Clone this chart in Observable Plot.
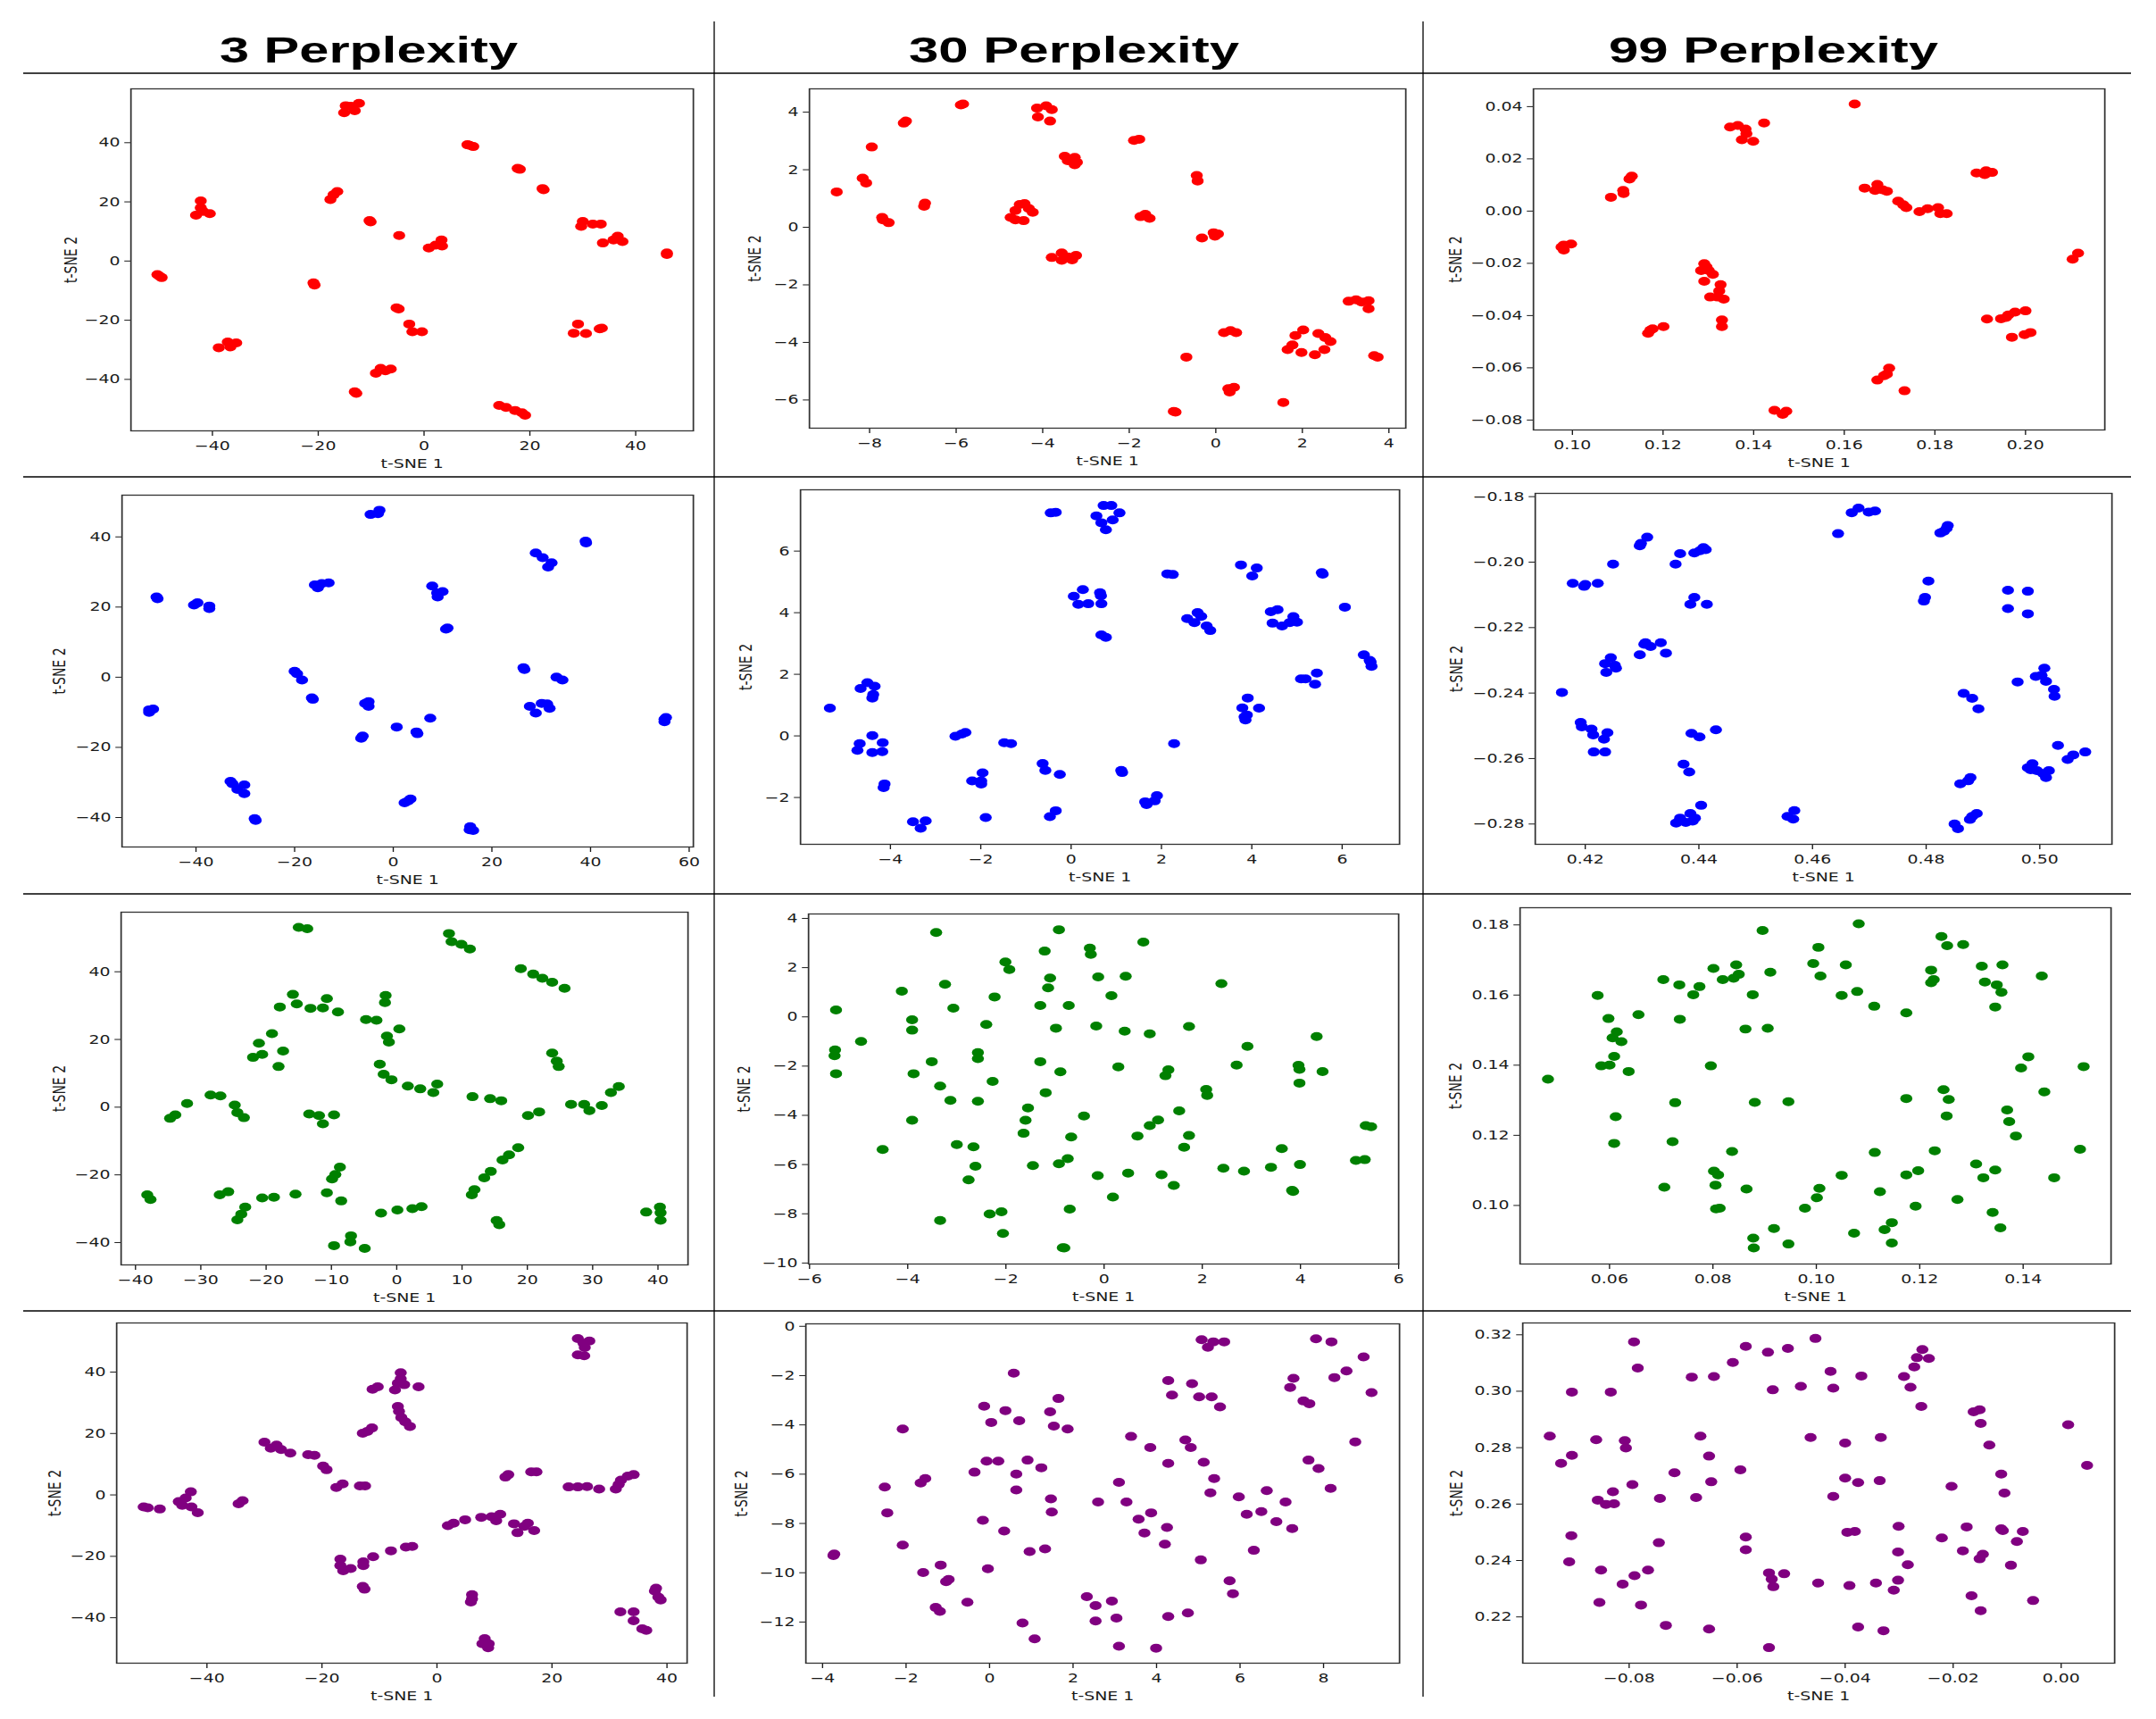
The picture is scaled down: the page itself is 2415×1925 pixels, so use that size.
<!DOCTYPE html>
<html><head><meta charset="utf-8">
<script src="https://cdn.jsdelivr.net/npm/d3@7"></script>
<script src="https://cdn.jsdelivr.net/npm/@observablehq/plot@0.6"></script>
<style>
html,body{margin:0;padding:0;background:#fff;}
#page{position:relative;width:2415px;height:1925px;overflow:hidden;background:#fff;}
.panel{position:absolute;transform-origin:0 0;}
#overlay{position:absolute;left:0;top:0;z-index:5;pointer-events:none;}
</style></head><body><div id="page"></div>
<script>
// ---------- column titles & axis labels ----------
const perplexities = [3, 30, 99];
const xLabel = "t-SNE 1";
const yLabel = "t-SNE 2";
const rowColors = ["#ff0000", "#0000ff", "#008000", "#800080"];

// ---------- data: row 1 (red) ----------
const r1_p3 = [[-15.1,50.1],[-14.8,52.5],[-13.1,50.8],[-12.3,53.3],[-13.8,52.3],[8.6,39.1],[9.3,38.7],[8.2,39.3],[17.7,31.3],[18.1,31.0],[22.4,24.5],[22.6,24.1],[-17.7,20.8],[-17.1,22.4],[-16.4,23.5],[-42.2,20.3],[-42.2,18.0],[-43.1,15.5],[-40.5,16.0],[-41.8,16.8],[-10.3,13.7],[-10.1,13.2],[-4.7,8.6],[0.9,4.4],[2.2,5.4],[3.3,7.1],[3.4,5.1],[29.7,11.7],[30.0,13.4],[31.9,12.5],[33.4,12.5],[33.8,6.1],[36.6,8.4],[37.5,6.6],[35.8,7.1],[45.9,2.7],[45.9,2.2],[-50.0,-5.1],[-49.6,-5.6],[-50.4,-4.6],[-20.7,-8.1],[-20.9,-7.4],[-5.2,-15.8],[-4.8,-16.2],[-2.8,-21.3],[-2.2,-23.9],[-0.4,-23.9],[28.3,-24.4],[29.1,-21.3],[30.6,-24.5],[33.2,-22.9],[33.6,-22.7],[-38.8,-29.3],[-37.1,-27.4],[-35.5,-27.7],[-36.6,-29.0],[-9.1,-37.9],[-8.2,-36.3],[-6.3,-36.5],[-7.3,-37.1],[-12.8,-44.7],[-13.1,-44.2],[14.2,-48.8],[15.5,-49.5],[17.2,-50.5],[18.5,-51.3],[19.1,-52.1]];
const r1_p30 = [[-8.76,1.23],[-7.95,2.79],[-8.16,1.71],[-8.08,1.54],[-7.71,0.34],[-7.69,0.26],[-7.56,0.16],[-7.21,3.62],[-7.16,3.69],[-6.72,0.84],[-6.74,0.73],[-5.89,4.25],[-5.84,4.28],[-4.74,0.34],[-4.63,0.58],[-4.53,0.79],[-4.42,0.82],[-4.32,0.65],[-4.23,0.52],[-4.44,0.23],[-4.63,0.26],[-4.13,4.14],[-4.11,3.83],[-3.92,4.22],[-3.79,4.09],[-3.83,3.69],[-3.49,2.47],[-3.42,2.31],[-3.26,2.43],[-3.21,2.26],[-3.26,2.17],[-3.79,-1.05],[-3.56,-0.89],[-3.56,-1.15],[-3.32,-1.13],[-3.23,-0.98],[-3.42,-1.03],[-1.89,3.02],[-1.77,3.06],[-1.74,0.37],[-1.63,0.45],[-1.53,0.31],[-0.44,1.80],[-0.42,1.61],[-0.32,-0.37],[-0.05,-0.19],[0.05,-0.23],[-0.02,-0.31],[-0.68,-4.51],[0.19,-3.66],[0.34,-3.59],[0.47,-3.66],[0.29,-5.61],[0.42,-5.56],[0.32,-5.72],[-0.97,-6.40],[-0.93,-6.42],[1.56,-6.09],[1.66,-4.25],[1.77,-4.09],[1.84,-3.76],[2.02,-3.57],[1.98,-4.35],[2.29,-4.43],[2.37,-3.69],[2.51,-4.25],[2.53,-3.83],[2.65,-3.97],[3.07,-2.57],[3.24,-2.52],[3.37,-2.60],[3.53,-2.55],[3.53,-2.83],[3.66,-4.46],[3.74,-4.51]];
const r1_p99 = [[0.1623,0.0410],[0.1348,0.0322],[0.1365,0.0328],[0.1382,0.0314],[0.1374,0.0273],[0.1399,0.0267],[0.1384,0.0296],[0.1423,0.0337],[0.1085,0.0053],[0.1112,0.0079],[0.1113,0.0067],[0.1126,0.0123],[0.1131,0.0134],[0.0981,-0.0130],[0.0976,-0.0138],[0.0997,-0.0126],[0.0981,-0.0149],[0.1291,-0.0201],[0.1284,-0.0228],[0.1301,-0.0228],[0.1310,-0.0242],[0.1291,-0.0269],[0.1296,-0.0214],[0.1304,-0.0329],[0.1320,-0.0329],[0.1327,-0.0282],[0.1324,-0.0306],[0.1334,-0.0337],[0.1330,-0.0417],[0.1330,-0.0442],[0.1172,-0.0456],[0.1167,-0.0468],[0.1177,-0.0451],[0.1201,-0.0442],[0.1446,-0.0763],[0.1464,-0.0778],[0.1472,-0.0766],[0.1645,0.0088],[0.1668,0.0079],[0.1673,0.0102],[0.1694,0.0076],[0.1684,0.0082],[0.1719,0.0038],[0.1730,0.0024],[0.1737,0.0013],[0.1766,-0.0002],[0.1784,0.0009],[0.1807,0.0013],[0.1812,-0.0010],[0.1826,-0.0010],[0.1892,0.0146],[0.1913,0.0154],[0.1926,0.0148],[0.1910,0.0140],[0.2104,-0.0184],[0.2116,-0.0161],[0.1673,-0.0647],[0.1688,-0.0630],[0.1699,-0.0601],[0.1694,-0.0624],[0.1733,-0.0688],[0.1915,-0.0413],[0.1946,-0.0412],[0.1962,-0.0398],[0.1977,-0.0387],[0.2000,-0.0382],[0.1957,-0.0407],[0.1970,-0.0483],[0.1998,-0.0473],[0.2011,-0.0465]];

// ---------- data: row 2 (blue) ----------
const r2_p3 = [[-4.6,46.4],[-3.1,46.6],[-2.8,47.6],[39.1,38.3],[39.0,38.8],[28.9,35.4],[30.3,34.1],[32.1,32.6],[31.4,31.4],[-15.9,26.3],[-14.5,26.7],[-13.1,26.9],[-15.3,25.5],[-48.0,22.9],[-47.8,22.4],[-40.4,20.6],[-39.7,21.2],[-37.3,20.3],[-37.3,19.6],[7.9,26.0],[10.0,24.4],[9.0,22.9],[8.9,24.0],[10.7,13.7],[11.0,14.0],[-20.0,1.7],[-19.5,1.0],[-18.5,-0.8],[-16.5,-5.9],[-16.3,-6.3],[-49.5,-9.3],[-48.7,-9.1],[-49.5,-10.0],[-5.7,-7.5],[-5.0,-8.3],[-5.0,-7.0],[-6.5,-17.4],[-6.2,-16.8],[0.7,-14.2],[4.9,-16.1],[4.7,-15.6],[7.5,-11.7],[26.4,2.7],[26.6,2.2],[33.1,0.0],[34.3,-0.8],[27.7,-8.3],[28.9,-10.2],[30.1,-7.5],[31.2,-7.6],[31.7,-8.9],[55.0,-12.0],[55.0,-12.7],[55.3,-11.5],[-33.0,-29.7],[-31.6,-32.0],[-30.2,-30.7],[-30.2,-33.2],[-32.6,-30.4],[-27.9,-40.8],[-28.1,-40.3],[2.3,-35.8],[3.5,-34.7],[3.0,-35.3],[15.5,-43.5],[16.2,-43.7],[15.6,-42.6]];
const r2_p30 = [[-5.34,0.90],[-4.66,1.54],[-4.51,1.73],[-4.35,1.61],[-4.38,1.34],[-4.40,1.23],[-4.73,-0.47],[-4.68,-0.25],[-4.40,0.01],[-4.40,-0.54],[-4.18,-0.51],[-4.17,-0.22],[-4.13,-1.56],[-4.15,-1.68],[-3.50,-2.79],[-3.33,-3.00],[-3.22,-2.76],[-2.56,-0.01],[-2.42,0.06],[-2.34,0.11],[-1.48,-0.22],[-1.33,-0.25],[-2.19,-1.46],[-1.96,-1.20],[-1.99,-1.56],[-1.99,-1.46],[-1.89,-2.65],[-0.63,-0.90],[-0.57,-1.12],[-0.25,-1.25],[-0.47,-2.62],[-0.34,-2.43],[1.11,-1.12],[1.13,-1.19],[1.64,-2.14],[1.67,-2.23],[1.90,-1.94],[1.85,-2.11],[2.28,-0.25],[-0.45,7.24],[-0.34,7.26],[0.72,7.48],[0.89,7.48],[1.07,7.24],[0.56,7.14],[0.67,6.92],[0.92,7.01],[0.77,6.69],[0.06,4.53],[0.26,4.75],[0.16,4.27],[0.38,4.29],[0.64,4.65],[0.66,4.55],[0.67,4.29],[0.67,3.28],[0.77,3.20],[2.13,5.26],[2.25,5.24],[3.76,5.55],[4.11,5.45],[4.01,5.19],[5.55,5.30],[5.57,5.25],[6.06,4.18],[2.57,3.81],[2.73,3.68],[2.80,4.00],[2.88,3.88],[3.00,3.57],[3.08,3.42],[4.42,4.03],[4.57,4.10],[4.46,3.66],[4.67,3.57],[4.84,3.68],[4.92,3.87],[5.00,3.69],[5.09,1.85],[5.19,1.85],[5.44,2.04],[5.40,1.68],[6.48,2.63],[6.61,2.45],[6.65,2.26],[6.63,2.40],[3.79,0.91],[3.91,1.23],[4.16,0.90],[3.84,0.62],[3.86,0.52],[3.89,0.68]];
const r2_p99 = [[0.4159,-0.2398],[0.4178,-0.2065],[0.4198,-0.2074],[0.4200,-0.2068],[0.4222,-0.2065],[0.4249,-0.2006],[0.4296,-0.1950],[0.4298,-0.1943],[0.4309,-0.1924],[0.4359,-0.2006],[0.4367,-0.1974],[0.4392,-0.1972],[0.4408,-0.1956],[0.4412,-0.1962],[0.4402,-0.1965],[0.4385,-0.2129],[0.4392,-0.2108],[0.4414,-0.2129],[0.4296,-0.2283],[0.4304,-0.2251],[0.4306,-0.2246],[0.4315,-0.2258],[0.4333,-0.2246],[0.4342,-0.2278],[0.4235,-0.2310],[0.4245,-0.2292],[0.4237,-0.2337],[0.4252,-0.2315],[0.4254,-0.2324],[0.4192,-0.2490],[0.4194,-0.2503],[0.4211,-0.2510],[0.4214,-0.2528],[0.4233,-0.2541],[0.4239,-0.2521],[0.4215,-0.2580],[0.4235,-0.2580],[0.4387,-0.2523],[0.4401,-0.2534],[0.4430,-0.2512],[0.4373,-0.2617],[0.4383,-0.2641],[0.4360,-0.2797],[0.4367,-0.2782],[0.4377,-0.2795],[0.4385,-0.2768],[0.4393,-0.2782],[0.4389,-0.2791],[0.4404,-0.2743],[0.4556,-0.2777],[0.4566,-0.2785],[0.4568,-0.2759],[0.4645,-0.1913],[0.4669,-0.1849],[0.4681,-0.1835],[0.4699,-0.1847],[0.4710,-0.1844],[0.4825,-0.1911],[0.4836,-0.1897],[0.4838,-0.1888],[0.4831,-0.1906],[0.4804,-0.2058],[0.4796,-0.2119],[0.4798,-0.2108],[0.4944,-0.2086],[0.4944,-0.2142],[0.4979,-0.2089],[0.4979,-0.2158],[0.4961,-0.2366],[0.4993,-0.2349],[0.5008,-0.2324],[0.5003,-0.2346],[0.5011,-0.2364],[0.5025,-0.2389],[0.5026,-0.2410],[0.4866,-0.2401],[0.4881,-0.2416],[0.4892,-0.2448],[0.5032,-0.2560],[0.5049,-0.2603],[0.5059,-0.2589],[0.5080,-0.2580],[0.4979,-0.2628],[0.4987,-0.2616],[0.4995,-0.2637],[0.5006,-0.2646],[0.5011,-0.2658],[0.5016,-0.2637],[0.4984,-0.2634],[0.4860,-0.2677],[0.4874,-0.2668],[0.4878,-0.2658],[0.4850,-0.2800],[0.4856,-0.2814],[0.4877,-0.2786],[0.4881,-0.2777],[0.4889,-0.2768]];

// ---------- data: row 3 (green) ----------
const r3_p3 = [[-15.0,53.1],[-13.7,52.7],[8.0,51.3],[8.4,48.9],[9.9,48.1],[11.2,46.7],[19.0,40.9],[20.9,39.3],[22.3,38.1],[23.8,36.9],[25.7,35.1],[-15.9,33.3],[-15.3,30.5],[-17.9,29.6],[-13.2,29.2],[-11.3,29.3],[-10.7,32.1],[-9.0,28.1],[-1.7,33.0],[-1.8,30.9],[-4.7,25.9],[-3.1,25.7],[0.4,23.1],[-1.5,21.0],[-1.2,19.2],[-19.1,21.7],[-21.1,18.9],[-20.6,15.6],[-22.0,14.7],[-17.4,16.6],[-18.1,12.0],[23.8,16.0],[24.5,13.6],[24.8,12.0],[-2.6,12.7],[-2.0,9.7],[-0.8,8.1],[1.7,6.2],[3.6,5.4],[5.6,4.3],[6.2,6.8],[11.6,3.1],[14.3,2.5],[16.0,1.9],[26.7,0.8],[28.7,0.8],[29.5,-1.0],[31.4,0.5],[32.8,4.3],[34.0,6.1],[20.1,-2.5],[21.8,-1.4],[-32.1,1.1],[-34.7,-3.3],[-33.9,-2.3],[-28.5,3.6],[-27.0,3.3],[-24.8,0.6],[-24.4,-1.6],[-23.4,-3.1],[-13.4,-2.0],[-11.9,-2.5],[-11.3,-4.9],[-9.6,-2.3],[18.6,-12.0],[17.2,-14.1],[16.2,-15.6],[14.4,-19.0],[13.4,-20.9],[11.9,-24.4],[11.5,-25.9],[-8.7,-17.7],[-9.4,-19.9],[-9.9,-21.2],[-38.2,-25.9],[-37.7,-27.3],[-27.1,-25.9],[-25.8,-25.0],[-23.2,-29.5],[-23.8,-31.6],[-24.4,-33.3],[-20.6,-26.8],[-18.8,-26.6],[-15.5,-25.7],[-10.7,-25.3],[-8.5,-27.7],[-2.4,-31.3],[0.1,-30.4],[2.4,-30.0],[3.8,-29.4],[15.3,-33.5],[15.7,-34.7],[38.2,-31.0],[40.3,-29.5],[40.4,-31.2],[40.4,-33.4],[-9.6,-40.9],[-7.0,-38.0],[-7.1,-39.8],[-4.9,-41.7]];
const r3_p30 = [[-3.42,3.43],[-0.92,3.54],[0.80,3.04],[-1.21,2.67],[-0.29,2.79],[-0.27,2.54],[-2.01,2.23],[-1.93,1.92],[-1.10,1.58],[-1.14,1.18],[-0.12,1.62],[0.44,1.65],[2.39,1.35],[-3.24,1.32],[-4.12,1.04],[-2.23,0.81],[0.15,0.86],[-1.30,0.46],[-0.72,0.46],[-3.07,0.35],[-5.46,0.28],[-3.91,-0.12],[-3.91,-0.54],[-2.40,-0.31],[-0.98,-0.46],[-0.16,-0.37],[0.42,-0.58],[0.93,-0.69],[1.73,-0.39],[4.33,-0.80],[2.92,-1.20],[-4.95,-1.00],[-5.48,-1.34],[-5.49,-1.58],[-5.46,-2.31],[-3.51,-1.82],[-2.57,-1.45],[-2.57,-1.70],[-1.30,-1.82],[-0.89,-2.23],[0.29,-2.03],[1.31,-2.15],[1.25,-2.39],[2.70,-1.96],[3.96,-1.97],[3.98,-2.13],[3.98,-2.69],[4.45,-2.22],[-3.88,-2.31],[-2.27,-2.62],[-3.34,-2.81],[2.08,-2.95],[2.10,-3.19],[-3.13,-3.39],[-2.57,-3.43],[-1.19,-3.08],[-1.55,-3.70],[-1.60,-4.20],[-3.91,-4.20],[-0.41,-4.03],[1.53,-3.82],[1.10,-4.19],[0.93,-4.42],[-1.64,-4.73],[-0.67,-4.88],[0.68,-4.84],[1.73,-4.82],[-4.51,-5.39],[-3.00,-5.19],[-2.66,-5.28],[1.63,-5.30],[3.62,-5.35],[5.33,-4.42],[5.44,-4.46],[-2.62,-6.07],[-1.45,-6.04],[-0.92,-5.97],[-0.74,-5.76],[5.13,-5.83],[5.31,-5.80],[2.43,-6.15],[2.85,-6.27],[3.40,-6.11],[3.99,-6.00],[-0.13,-6.45],[0.49,-6.35],[1.17,-6.41],[1.42,-6.85],[-2.76,-6.62],[3.83,-7.05],[3.85,-7.09],[0.18,-7.32],[-2.33,-8.01],[-2.09,-7.92],[-0.70,-7.81],[-3.34,-8.27],[-2.06,-8.80],[-0.84,-9.38],[-0.81,-9.39]];
const r3_p99 = [[0.0481,0.1360],[0.0577,0.1599],[0.0598,0.1533],[0.0656,0.1544],[0.0614,0.1495],[0.0606,0.1478],[0.0623,0.1467],[0.0609,0.1425],[0.0584,0.1398],[0.0600,0.1400],[0.0637,0.1382],[0.0612,0.1253],[0.0609,0.1177],[0.0704,0.1644],[0.0735,0.1629],[0.0736,0.1531],[0.0762,0.1601],[0.0774,0.1624],[0.0727,0.1293],[0.0722,0.1182],[0.0706,0.1052],[0.0801,0.1676],[0.0819,0.1644],[0.0845,0.1686],[0.0840,0.1648],[0.0850,0.1659],[0.0877,0.1601],[0.0896,0.1784],[0.0911,0.1665],[0.0863,0.1503],[0.0906,0.1505],[0.0796,0.1398],[0.0881,0.1294],[0.0946,0.1296],[0.0837,0.1154],[0.0802,0.1098],[0.0810,0.1087],[0.0805,0.1058],[0.0806,0.0990],[0.0813,0.0992],[0.0865,0.1047],[0.0878,0.0907],[0.0879,0.0879],[0.0918,0.0934],[0.0946,0.0890],[0.0978,0.0992],[0.1001,0.1022],[0.1006,0.1049],[0.1049,0.1086],[0.0994,0.1690],[0.1004,0.1736],[0.1008,0.1654],[0.1057,0.1686],[0.1049,0.1599],[0.1082,0.1803],[0.1079,0.1610],[0.1112,0.1568],[0.1113,0.1151],[0.1123,0.1039],[0.1073,0.0921],[0.1132,0.0931],[0.1146,0.0951],[0.1146,0.0893],[0.1174,0.1549],[0.1174,0.1305],[0.1174,0.1087],[0.1197,0.1099],[0.1192,0.0998],[0.1222,0.1671],[0.1222,0.1635],[0.1227,0.1644],[0.1242,0.1767],[0.1253,0.1741],[0.1284,0.1744],[0.1246,0.1330],[0.1256,0.1302],[0.1252,0.1255],[0.1229,0.1156],[0.1273,0.1017],[0.1309,0.1118],[0.1323,0.1079],[0.1346,0.1101],[0.1341,0.0980],[0.1356,0.0936],[0.1320,0.1682],[0.1326,0.1637],[0.1349,0.1629],[0.1358,0.1608],[0.1360,0.1686],[0.1346,0.1566],[0.1369,0.1272],[0.1373,0.1239],[0.1386,0.1198],[0.1396,0.1392],[0.1410,0.1424],[0.1436,0.1654],[0.1441,0.1324],[0.1517,0.1396],[0.1510,0.1160],[0.1460,0.1079]];

// ---------- data: row 4 (purple) ----------
const r4_p3 = [[-51.0,-3.9],[-50.3,-4.2],[-48.2,-4.6],[-44.9,-2.2],[-44.3,-3.4],[-43.7,-1.0],[-42.8,1.0],[-42.7,-3.9],[-41.6,-5.8],[-34.5,-2.9],[-33.8,-1.9],[-30.0,17.2],[-28.9,15.2],[-27.9,16.2],[-27.1,14.8],[-25.5,13.6],[-22.4,13.1],[-21.3,12.9],[-19.8,9.4],[-19.2,8.2],[-17.5,2.4],[-16.4,3.6],[-13.4,2.9],[-12.5,2.9],[-11.2,34.4],[-10.3,35.2],[-7.3,34.2],[-6.3,39.8],[-6.3,37.8],[-6.8,36.4],[-5.7,35.9],[-3.2,35.2],[-6.8,28.8],[-6.6,27.2],[-6.2,25.2],[-5.5,23.8],[-4.7,22.3],[-12.9,20.1],[-12.1,20.7],[-11.3,21.8],[-16.8,-20.9],[-16.8,-23.0],[-16.3,-24.7],[-15.0,-24.0],[-12.8,-21.8],[-12.8,-23.0],[-12.9,-29.8],[-12.6,-30.7],[-11.1,-20.1],[-8.0,-18.2],[-5.4,-17.0],[-4.3,-16.8],[1.9,-10.0],[2.9,-9.2],[4.9,-8.1],[7.7,-7.3],[9.5,-7.1],[10.3,-8.4],[11.0,-6.3],[13.4,-9.4],[14.0,-12.3],[15.2,-10.2],[15.8,-9.2],[16.9,-11.6],[11.9,5.8],[12.4,6.6],[16.4,7.5],[17.3,7.5],[22.9,2.6],[24.5,2.6],[26.1,2.7],[28.2,1.9],[31.1,1.9],[31.6,3.4],[32.0,4.8],[33.2,6.1],[34.2,6.6],[24.5,50.9],[24.5,45.6],[25.6,45.3],[25.7,48.0],[26.5,50.1],[25.5,49.4],[6.1,-32.5],[5.9,-34.9],[6.1,-33.9],[8.3,-46.8],[9.0,-48.5],[8.9,-49.8],[7.9,-48.5],[31.9,-38.1],[34.2,-38.1],[34.2,-41.0],[35.7,-43.6],[36.4,-44.1],[38.1,-30.4],[37.9,-31.3],[38.5,-33.3],[38.9,-34.2]];
const r4_p30 = [[-3.74,-9.30],[-3.72,-9.24],[-2.51,-6.52],[-2.45,-7.57],[-2.08,-4.17],[-2.08,-8.88],[-1.65,-6.36],[-1.54,-6.18],[-1.59,-9.99],[-1.17,-9.69],[-1.04,-10.36],[-0.98,-10.27],[-1.29,-11.41],[-1.19,-11.57],[-0.53,-11.20],[-0.36,-5.92],[-0.13,-3.24],[-0.07,-5.47],[-0.16,-7.87],[-0.04,-9.84],[0.04,-3.90],[0.21,-5.47],[0.38,-3.42],[0.35,-8.31],[0.58,-1.90],[0.71,-3.83],[0.64,-6.00],[0.64,-6.64],[0.91,-5.43],[0.96,-9.14],[0.79,-12.04],[1.08,-12.68],[1.24,-5.74],[1.33,-9.03],[1.45,-3.47],[1.47,-7.00],[1.49,-7.54],[1.54,-4.05],[1.65,-2.93],[1.87,-4.17],[2.33,-10.97],[2.54,-11.33],[2.54,-11.96],[2.60,-7.13],[2.93,-11.15],[3.04,-11.84],[3.10,-6.33],[3.10,-12.98],[3.28,-7.13],[3.39,-4.47],[3.57,-7.83],[3.71,-8.39],[3.85,-4.92],[3.87,-7.57],[3.99,-13.06],[4.20,-8.84],[4.25,-8.16],[4.28,-2.20],[4.28,-5.56],[4.28,-11.78],[4.37,-2.79],[4.69,-4.61],[4.82,-4.92],[4.75,-11.63],[4.85,-2.33],[5.02,-2.86],[5.06,-9.48],[5.08,-0.54],[5.13,-5.52],[5.23,-0.85],[5.29,-6.76],[5.32,-2.86],[5.36,-0.63],[5.38,-6.18],[5.52,-3.27],[5.62,-0.63],[5.75,-10.33],[5.83,-10.85],[5.97,-6.92],[6.16,-7.63],[6.33,-9.09],[6.51,-7.52],[6.64,-6.67],[6.87,-7.93],[7.09,-7.13],[7.20,-2.48],[7.25,-8.21],[7.28,-2.11],[7.52,-3.03],[7.66,-3.14],[7.64,-5.43],[7.82,-0.51],[7.88,-5.77],[8.17,-6.58],[8.19,-0.63],[8.26,-2.08],[8.55,-1.81],[8.76,-4.69],[8.96,-1.24],[9.15,-2.69]];
const r4_p99 = [[-0.0947,0.2841],[-0.0926,0.2744],[-0.0906,0.2773],[-0.0906,0.2997],[-0.0907,0.2488],[-0.0911,0.2395],[-0.0861,0.2828],[-0.0858,0.2614],[-0.0843,0.2599],[-0.0828,0.2601],[-0.0830,0.2644],[-0.0834,0.2997],[-0.0852,0.2366],[-0.0855,0.2251],[-0.0808,0.2825],[-0.0806,0.2799],[-0.0812,0.2316],[-0.0794,0.2669],[-0.0791,0.3175],[-0.0784,0.3082],[-0.0790,0.2346],[-0.0778,0.2242],[-0.0765,0.2366],[-0.0745,0.2463],[-0.0743,0.2620],[-0.0732,0.2170],[-0.0716,0.2711],[-0.0684,0.3050],[-0.0676,0.2623],[-0.0668,0.2841],[-0.0652,0.2770],[-0.0652,0.2157],[-0.0648,0.2679],[-0.0643,0.3052],[-0.0608,0.3102],[-0.0594,0.2721],[-0.0584,0.3159],[-0.0584,0.2483],[-0.0584,0.2438],[-0.0543,0.3138],[-0.0541,0.2356],[-0.0541,0.2091],[-0.0536,0.2334],[-0.0534,0.3005],[-0.0533,0.2307],[-0.0513,0.2353],[-0.0506,0.3152],[-0.0482,0.3017],[-0.0464,0.2836],[-0.0455,0.3187],[-0.0450,0.2320],[-0.0427,0.3070],[-0.0422,0.3011],[-0.0422,0.2627],[-0.0400,0.2816],[-0.0400,0.2692],[-0.0396,0.2500],[-0.0382,0.2503],[-0.0392,0.2311],[-0.0376,0.2676],[-0.0376,0.2164],[-0.0370,0.3054],[-0.0343,0.2320],[-0.0336,0.2683],[-0.0334,0.2836],[-0.0329,0.2151],[-0.0310,0.2295],[-0.0302,0.2330],[-0.0302,0.2430],[-0.0301,0.2521],[-0.0291,0.3052],[-0.0284,0.2385],[-0.0279,0.3014],[-0.0272,0.3086],[-0.0267,0.3119],[-0.0259,0.2946],[-0.0257,0.3148],[-0.0245,0.3116],[-0.0221,0.2480],[-0.0203,0.2663],[-0.0182,0.2434],[-0.0175,0.2519],[-0.0166,0.2275],[-0.0162,0.2927],[-0.0151,0.2934],[-0.0149,0.2886],[-0.0151,0.2406],[-0.0145,0.2422],[-0.0149,0.2222],[-0.0133,0.2809],[-0.0111,0.2706],[-0.0111,0.2512],[-0.0108,0.2506],[-0.0105,0.2639],[-0.0093,0.2383],[-0.0082,0.2467],[-0.0071,0.2503],[-0.0052,0.2258],[0.0013,0.2881],[0.0048,0.2737]];

// ---------- axis limits & ticks ----------
const xDomains = [[-55.4,50.9],[-9.39,4.39],[0.0914,0.2175],[-55.0,60.85],[-5.99,7.27],[0.4112,0.5127],[-42.2,44.6],[-6.02,6.0],[0.0427,0.1570],[-55.7,43.5],[-4.40,9.82],[-0.0997,0.0099]];
const yDomains = [[-57.4,58.2],[-6.98,4.81],[-0.0838,0.0468],[-48.4,51.9],[-3.52,7.99],[-0.2862,-0.1790],[-46.6,57.6],[-10.04,4.18],[0.0833,0.1849],[-54.8,56.0],[-13.67,0.10],[0.2036,0.3242]];
const xTicks = [[-40,-20,0,20,40],[-8,-6,-4,-2,0,2,4],[0.10,0.12,0.14,0.16,0.18,0.20],[-40,-20,0,20,40,60],[-4,-2,0,2,4,6],[0.42,0.44,0.46,0.48,0.50],[-40,-30,-20,-10,0,10,20,30,40],[-6,-4,-2,0,2,4,6],[0.06,0.08,0.10,0.12,0.14],[-40,-20,0,20,40],[-4,-2,0,2,4,6,8],[-0.08,-0.06,-0.04,-0.02,0.00]];
const yTicks = [[-40,-20,0,20,40],[-6,-4,-2,0,2,4],[-0.08,-0.06,-0.04,-0.02,0.00,0.02,0.04],[-40,-20,0,20,40],[-2,0,2,4,6],[-0.28,-0.26,-0.24,-0.22,-0.20,-0.18],[-40,-20,0,20,40],[-10,-8,-6,-4,-2,0,2,4],[0.10,0.12,0.14,0.16,0.18],[-40,-20,0,20,40],[-12,-10,-8,-6,-4,-2,0],[0.22,0.24,0.26,0.28,0.30,0.32]];

const rows = [[r1_p3,r1_p30,r1_p99],[r2_p3,r2_p30,r2_p99],[r3_p3,r3_p30,r3_p99],[r4_p3,r4_p30,r4_p99]];

// ---------- layout (page pixels): frame left, right, top, bottom, y-label offset ----------
const frames = [
  [146,776,99,482,67],[906,1574,99,479,61],[1717,2357,99,481,87],
  [136,776,554,948,70],[896,1567,548,945,61],[1719,2365,552,945,88],
  [135,770,1021,1416,69],[905,1566,1023,1415,72],[1702,2364,1016,1415,72],
  [130,769,1481,1862,69],[902,1567,1482,1862,72],[1705,2368,1481,1862,74]
];

const SX = 1.35; // horizontal stretch of the original figure
const M = {l: 80, r: 10, t: 12, b: 50};
const fmtInt = d3.format("d");
const fmt2 = d3.format(".2f");
const page = document.getElementById("page");

for (let ri = 0; ri < 4; ri++) {
  for (let ci = 0; ci < 3; ci++) {
    const k = ri * 3 + ci;
    const [L, R, T, B, yOff] = frames[k];
    const w = (R - L) / SX, h = B - T;
    const W = w + M.l + M.r, H = h + M.t + M.b;
    const fmt = ci === 2 ? fmt2 : fmtInt;
    const svg = Plot.plot({
      width: W, height: H,
      marginLeft: M.l, marginRight: M.r, marginTop: M.t, marginBottom: M.b,
      style: {fontFamily: "DejaVu Sans", fontSize: "14px", color: "#1a1a1a", background: "transparent", maxWidth: "none", overflow: "visible"},
      x: {domain: xDomains[k], ticks: xTicks[k], tickFormat: fmt, tickSize: 6, tickPadding: 6, label: null},
      y: {domain: yDomains[k], ticks: yTicks[k], tickFormat: fmt, tickSize: 5, tickPadding: 4, label: null},
      marks: [
        Plot.frame({stroke: "#333", strokeWidth: 1.3}),
        Plot.dot(rows[ri][ci], {x: d => d[0], y: d => d[1], r: 5, fill: rowColors[ri], stroke: "none"}),
        Plot.text([xLabel], {text: d => d, frameAnchor: "bottom", dy: 37, fontSize: 14, textAnchor: "middle", lineAnchor: "middle"}),
        Plot.text([yLabel], {text: d => d, frameAnchor: "left", dx: -yOff / SX, rotate: -90, fontSize: 14, textAnchor: "middle", lineAnchor: "middle"})
      ]
    });
    const div = document.createElement("div");
    div.className = "panel";
    div.style.left = (L - M.l * SX) + "px";
    div.style.top = (T - M.t) + "px";
    div.style.width = W + "px";
    div.style.height = H + "px";
    div.style.transform = `scaleX(${SX})`;
    div.appendChild(svg);
    page.appendChild(div);
  }
}

// ---------- overlay: separators & column titles ----------
const ns = "http://www.w3.org/2000/svg";
const ov = document.createElementNS(ns, "svg");
ov.setAttribute("id", "overlay");
ov.setAttribute("width", 2415);
ov.setAttribute("height", 1925);
function line(x1, y1, x2, y2) {
  const l = document.createElementNS(ns, "line");
  l.setAttribute("x1", x1); l.setAttribute("y1", y1);
  l.setAttribute("x2", x2); l.setAttribute("y2", y2);
  l.setAttribute("stroke", "#000"); l.setAttribute("stroke-width", 1.3);
  ov.appendChild(l);
}
[82, 534, 1001, 1468].forEach(y => line(26, y, 2387, y));
[800, 1594].forEach(x => line(x, 24, x, 1900));
const titleBox = [[246, 334], [1018, 370], [1802, 369]];
perplexities.forEach((p, i) => {
  const t = document.createElementNS(ns, "text");
  t.textContent = `${p} Perplexity`;
  t.setAttribute("x", titleBox[i][0]);
  t.setAttribute("y", 70);
  t.setAttribute("font-family", "Liberation Sans, Arial, sans-serif");
  t.setAttribute("font-weight", "bold");
  t.setAttribute("font-size", 40);
  t.setAttribute("textLength", titleBox[i][1]);
  t.setAttribute("lengthAdjust", "spacingAndGlyphs");
  t.setAttribute("fill", "#000");
  ov.appendChild(t);
});
page.appendChild(ov);
</script></body></html>
